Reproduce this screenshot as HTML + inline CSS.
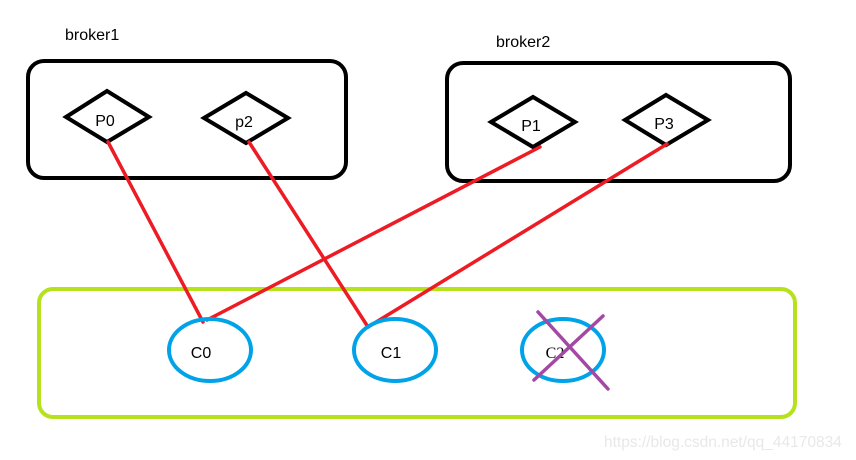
<!DOCTYPE html>
<html><head><style>body{margin:0;background:#fff;}svg{display:block}</style></head><body>
<svg width="856" height="460" xmlns="http://www.w3.org/2000/svg" font-family="Liberation Sans, sans-serif">
<rect width="856" height="460" fill="#fff"/>
<text x="65" y="40" font-size="16" fill="#000">broker1</text>
<text x="496" y="47" font-size="16" fill="#000">broker2</text>
<rect x="28" y="61" width="318" height="117" rx="16" fill="none" stroke="#000" stroke-width="4"/>
<rect x="447" y="63" width="343" height="118" rx="16" fill="none" stroke="#000" stroke-width="4"/>
<rect x="39" y="289" width="756" height="128" rx="14" fill="none" stroke="#b5e21c" stroke-width="4"/>
<g fill="#fff" stroke="#000" stroke-width="4">
<polygon points="66,117 107,91 149,117 107,142"/>
<polygon points="204,118 246,93 288,118 246,143"/>
<polygon points="491,122 533,97 575,122 533,147"/>
<polygon points="625,120 666,95 708,120 666,145"/>
</g>
<g font-size="16" fill="#000" text-anchor="middle">
<text x="105" y="126">P0</text>
<text x="244" y="127">p2</text>
<text x="531" y="131">P1</text>
<text x="664" y="129">P3</text>
</g>
<g stroke="#ed1c24" stroke-width="3.5" stroke-linecap="round">
<line x1="108" y1="142" x2="203" y2="322"/>
<line x1="249" y1="142" x2="368" y2="327"/>
<line x1="540" y1="147" x2="207" y2="320"/>
<line x1="667" y1="144" x2="368" y2="327"/>
</g>
<g fill="none" stroke="#00a2e8" stroke-width="4">
<ellipse cx="210" cy="350" rx="41" ry="31"/>
<ellipse cx="395" cy="350" rx="41" ry="31"/>
<ellipse cx="563" cy="350" rx="41" ry="31"/>
</g>
<g font-size="16" fill="#000" text-anchor="middle">
<text x="201" y="358">C0</text>
<text x="391" y="358">C1</text>
<text x="555" y="358" font-family="Liberation Serif, serif">C2</text>
</g>
<g stroke="#a349a4" stroke-width="3.5" stroke-linecap="round">
<line x1="538" y1="312" x2="608" y2="389"/>
<line x1="603" y1="316" x2="534" y2="380"/>
</g>
<text x="604" y="447" font-size="15.5" fill="#e8e8e8">https://blog.csdn.net/qq_44170834</text>
</svg>
</body></html>
